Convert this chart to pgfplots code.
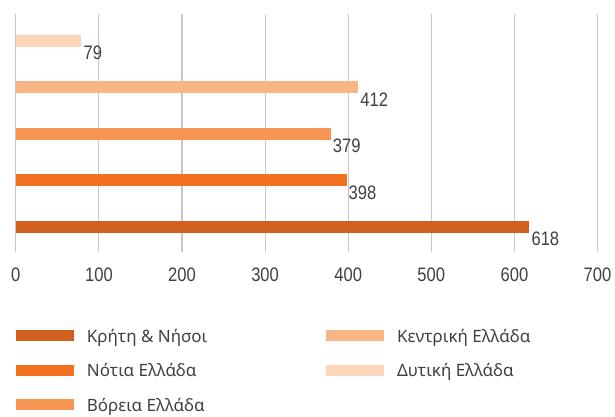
\documentclass[border=0pt]{standalone}
\usepackage{pgfplots}
\pgfplotsset{compat=1.18}
\usepackage{fontspec}
\setmainfont{Noto Sans}
\newfontfamily\numfont[FakeStretch=0.85]{Liberation Sans}
\definecolor{cA}{RGB}{210,96,30}
\definecolor{cB}{RGB}{243,112,33}
\definecolor{cC}{RGB}{247,149,82}
\definecolor{cD}{RGB}{249,181,134}
\definecolor{cE}{RGB}{253,213,184}
\definecolor{txt}{RGB}{64,64,64}
\definecolor{grd}{RGB}{200,200,200}
\begin{document}
\begin{tikzpicture}
\begin{axis}[
  at={(0pt,0pt)}, anchor=south west,
  /pgf/number format/assume math mode=true,
  scale only axis, width=581.7pt, height=238pt,
  xmin=0, xmax=700, ymin=0.458, ymax=5.576,
  xtick={0,100,200,300,400,500,600,700}, ytick=\empty,
  xmajorgrids, major grid style={draw=grd, line width=1.1pt},
  axis line style={draw=none},
  tick style={draw=none},
  xticklabel style={font=\numfont\fontsize{19.5}{20}\selectfont, text=txt, inner sep=0pt, anchor=north, yshift=-16pt},
  xbar, bar width=11.7pt, bar shift=0pt,
  nodes near coords,
  every node near coord/.append style={font=\numfont\fontsize{19.5}{20}\selectfont, text=txt, anchor=north west, inner sep=0pt, xshift=2pt, yshift=-5pt},
  legend image code/.code={\draw[#1,draw=none] (0pt,-5.5pt) rectangle (57.5pt,5.5pt);},
  legend cell align=left, transpose legend, legend columns=3,
  legend style={at={(0,0)}, anchor=north west, yshift=-77.5pt, xshift=0.2pt,
    draw=none, fill=none, inner sep=0pt, outer sep=0pt, column sep=0pt, row sep=22pt,
    font=\fontsize{17}{17}\selectfont, text=txt,
    nodes={inner sep=0pt, text height=12.5pt, text depth=0pt}},
]
\addplot[fill=cA, draw=none] coordinates {(618,1)};
\addlegendentry{\makebox[252.7pt][l]{\hspace*{13.4pt}Κρήτη \& Νήσοι}}
\addplot[fill=cB, draw=none] coordinates {(398,2)};
\addlegendentry{\makebox[252.7pt][l]{\hspace*{13.4pt}Νότια Ελλάδα}}
\addplot[fill=cC, draw=none] coordinates {(379,3)};
\addlegendentry{\makebox[252.7pt][l]{\hspace*{13.4pt}Βόρεια Ελλάδα}}
\addplot[fill=cD, draw=none] coordinates {(412,4)};
\addlegendentry{\hspace*{13.4pt}Κεντρική Ελλάδα}
\addplot[fill=cE, draw=none] coordinates {(79,5)};
\addlegendentry{\hspace*{13.4pt}Δυτική Ελλάδα}
\end{axis}
\pgfresetboundingbox
\path (-15.8pt,-164pt) rectangle (599.2pt,252pt);
\end{tikzpicture}
\end{document}
